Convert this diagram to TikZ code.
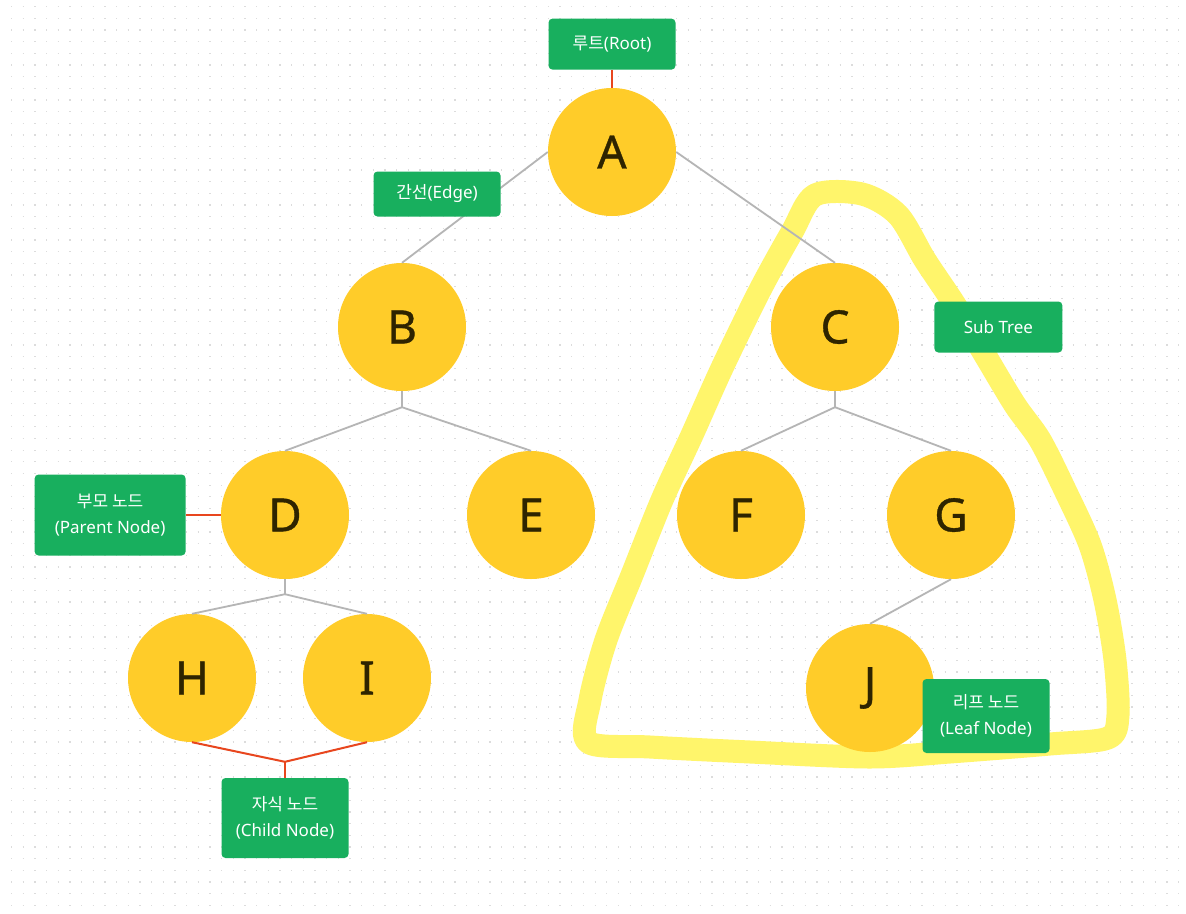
\documentclass[tikz,border=0pt]{standalone}
\usepackage{fontspec}
\setmainfont{Noto Sans}
\newfontfamily\kr{Noto Sans CJK KR}
\newfontfamily\letterfont{Noto Sans}[FakeBold=0.8]
\usetikzlibrary{positioning}
\definecolor{nodeyellow}{HTML}{FFCC29}
\definecolor{lettercol}{HTML}{2E2400}
\definecolor{boxgreen}{HTML}{18AF5E}
\definecolor{edgegray}{HTML}{B5B5B5}
\definecolor{markred}{HTML}{E8461E}
\definecolor{hilite}{HTML}{FFF56B}
\definecolor{griddot}{HTML}{DCDCDC}
\tikzset{
  treenode/.style={circle,fill=nodeyellow,minimum size=128pt,inner sep=0pt,text=lettercol,font=\letterfont\fontsize{46}{50}\selectfont},
  labelbox/.style={rounded corners=4pt,fill=boxgreen,text=white,align=center,inner sep=0pt,minimum width=127pt,font=\fontsize{17}{26}\selectfont},
  edgeline/.style={draw=edgegray,line width=1.8pt},
  markline/.style={draw=markred,line width=2pt},
  highlight/.style={draw=hilite,line width=23pt,line join=round,line cap=round}
}

\begin{document}
\begin{tikzpicture}[x=1pt,y=-1pt]
  \useasboundingbox[fill=white] (0,0) rectangle (1186,913);
  % dot grid
  \foreach \j in {0,...,77}
    \draw[griddot,line width=1.3pt,dash pattern=on 1.3pt off 10.37pt] (11,{6.7+\j*11.67}) -- (1186,{6.7+\j*11.67});

  % sub tree highlight
  \draw[highlight] plot[smooth cycle,tension=0.5] coordinates {
    (815,195) (862,194) (898,215) (925,260) (955,305) (985,355) (1015,405)
    (1040,440) (1065,490) (1090,545) (1105,600) (1115,660) (1118,715) (1108,738)
    (1050,744) (950,752) (870,757) (750,752) (650,747) (588,742) (590,700)
    (606,640) (632,575) (662,500) (692,435) (722,368) (760,290) (792,232)};

  % tree nodes
  \node[treenode] (A) at (612,152) {A};
  \node[treenode] (B) at (402,327) {B};
  \node[treenode] (C) at (835,327) {C};
  \node[treenode] (D) at (285,515) {D};
  \node[treenode] (E) at (531,515) {E};
  \node[treenode] (F) at (741,515) {F};
  \node[treenode] (G) at (951,515) {G};
  \node[treenode] (H) at (192,678) {H};
  \node[treenode] (I) at (367,678) {I};
  \node[treenode] (J) at (870,688) {J};

  % edges
  \draw[edgeline] (A.west) -- (B.north);
  \draw[edgeline] (A.east) -- (C.north);
  \draw[edgeline] (B.south) -- ++(0,16) coordinate (bfork) -- (D.north);
  \draw[edgeline] (bfork) -- (E.north);
  \draw[edgeline] (C.south) -- ++(0,16) coordinate (cfork) -- (F.north);
  \draw[edgeline] (cfork) -- (G.north);
  \draw[edgeline] (D.south) -- ++(0,15) coordinate (dfork) -- (H.north);
  \draw[edgeline] (dfork) -- (I.north);
  \draw[edgeline] (G.south) -- (J.north);

  % labels
  \node[labelbox,minimum height=51pt,above=18pt of A] (root) {{\kr 루트}(Root)};
  \node[labelbox,minimum height=45pt] (edge) at (437,194) {{\kr 간선}(Edge)};
  \node[labelbox,minimum height=51pt,minimum width=128pt,right=35pt of C] (subtree) {Sub Tree};
  \node[labelbox,minimum height=81pt,minimum width=151pt,left=35pt of D] (parent) {{\kr 부모 노드}\\(Parent Node)};
  \node[labelbox,minimum height=80pt] (child) at (285,818) {{\kr 자식 노드}\\(Child Node)};
  \node[labelbox,minimum height=74pt] (leaf) at (986,716) {{\kr 리프 노드}\\(Leaf Node)};

  \draw[markline] (root) -- (A);
  \draw[markline] (parent) -- (D);
  \path (child.north) ++(0,-16) coordinate (childfork);
  \draw[markline] (H.south) -- (childfork) -- (I.south);
  \draw[markline] (childfork) -- (child.north);
\end{tikzpicture}
\end{document}
